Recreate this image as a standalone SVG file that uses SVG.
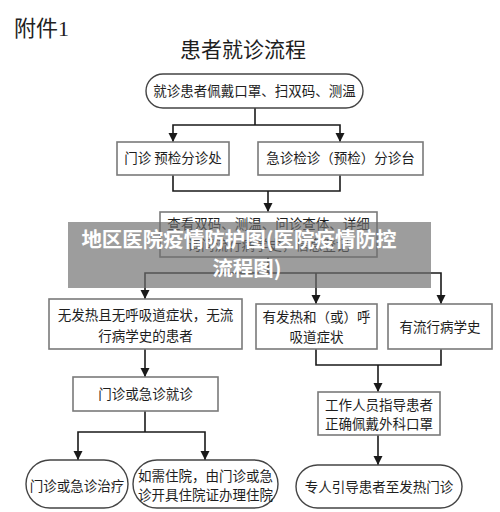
<svg xmlns="http://www.w3.org/2000/svg" width="500" height="512" viewBox="0 0 500 512">
<defs>
<marker id="arr" markerUnits="userSpaceOnUse" viewBox="0 0 10 10" refX="10" refY="5" markerWidth="9" markerHeight="10" orient="auto">
<path d="M0,0 L10,5 L0,10 z" fill="#1a1a1a"/>
</marker>
<style>
.box{fill:#fff;stroke:#7a7a7a;stroke-width:1.6}
.rbox{fill:#fff;stroke:#444;stroke-width:1.4}
.t{font-family:"Noto Sans CJK SC","Noto Sans",sans-serif;font-size:13.5px;fill:#1e1e1e;text-anchor:middle}
.c{fill:none;stroke:#1a1a1a;stroke-width:1.6}
.ca{fill:none;stroke:#1a1a1a;stroke-width:1.6;marker-end:url(#arr)}
.band{font-family:"Noto Sans CJK SC","Noto Sans",sans-serif;font-size:20.5px;font-weight:bold;fill:#fff;text-anchor:middle}
</style>
</defs>
<rect width="500" height="512" fill="#fff"/>
<text x="14" y="36" style="font-family:'Liberation Serif','Noto Sans CJK SC',serif;font-size:22px;fill:#222">附件1</text>
<text x="243" y="57" style="font-family:'Noto Sans CJK SC',sans-serif;font-size:21px;fill:#1e1e1e;text-anchor:middle">患者就诊流程</text>

<g id="connectors">
<path class="c" d="M255,108 V125"/>
<path class="ca" d="M255,125 H173 V142"/>
<path class="ca" d="M255,125 H340 V142"/>
<path class="c" d="M173,175 V191 H340 V175"/>
<path class="ca" d="M268,191 V212"/>
<path class="c" d="M268,257 V273"/>
<path class="ca" d="M268,273 H145 V299"/>
<path class="ca" d="M268,273 H441 V304"/>
<path class="ca" d="M316,273 V304"/>
<path class="c" d="M316,349 V365 H441 V349"/>
<path class="ca" d="M378,365 V392"/>
<path class="ca" d="M145,349 V377"/>
<path class="c" d="M145,411 V432"/>
<path class="ca" d="M145,432 H78 V460"/>
<path class="ca" d="M145,432 H205 V460"/>
<path class="ca" d="M378,435 V465"/>
</g>

<g id="n1"><rect class="rbox" x="146" y="74" width="217" height="34" rx="17"/><text class="t" x="254.5" y="96">就诊患者佩戴口罩、扫双码、测温</text></g>
<g id="n2"><rect class="box" x="117" y="142" width="112" height="33"/><text class="t" x="173" y="163">门诊 预检分诊处</text></g>
<g id="n3"><rect class="box" x="258" y="142" width="165" height="33"/><text class="t" x="340.5" y="163">急诊检诊（预检）分诊台</text></g>
<g id="n4"><rect class="box" x="160" y="212" width="217" height="45"/><text class="t" x="268.5" y="229">查看双码、测温、问诊查体、详细</text><text class="t" x="268.5" y="250">询问流行病学史，信息登记</text></g>
<g id="n5"><rect class="box" x="49" y="299" width="193" height="50"/><text class="t" x="145.5" y="320">无发热且无呼吸道症状，无流</text><text class="t" x="145.5" y="341">行病学史的患者</text></g>
<g id="n6"><rect class="box" x="256" y="304" width="121" height="45"/><text class="t" x="316.5" y="322">有发热和（或）呼</text><text class="t" x="316.5" y="342">吸道症状</text></g>
<g id="n7"><rect class="box" x="388" y="304" width="104" height="45"/><text class="t" x="440" y="332">有流行病学史</text></g>
<g id="n8"><rect class="box" x="73" y="377" width="145" height="34"/><text class="t" x="145.5" y="399">门诊或急诊就诊</text></g>
<g id="n9"><rect class="box" x="318" y="392" width="122" height="43"/><text class="t" x="379" y="410">工作人员指导患者</text><text class="t" x="379" y="429">正确佩戴外科口罩</text></g>
<g id="n10"><rect class="rbox" x="26" y="460" width="102" height="48" rx="24"/><text class="t" x="77" y="491">门诊或急诊治疗</text></g>
<g id="n11"><rect class="rbox" x="133" y="460" width="145" height="48" rx="24"/><text class="t" x="205.5" y="481">如需住院，由门诊或急</text><text class="t" x="205.5" y="500">诊开具住院证办理住院</text></g>
<g id="n12"><rect class="rbox" x="296" y="465" width="166" height="43" rx="21.5"/><text class="t" x="379" y="492">专人引导患者至发热门诊</text></g>

<g id="watermark">
<rect x="68" y="222" width="363" height="66" fill="#6e6e6e" opacity="0.68"/>
<text class="band" x="239" y="247">地区医院疫情防护图(医院疫情防控</text>
<text class="band" x="247" y="276">流程图)</text>
</g>
</svg>
